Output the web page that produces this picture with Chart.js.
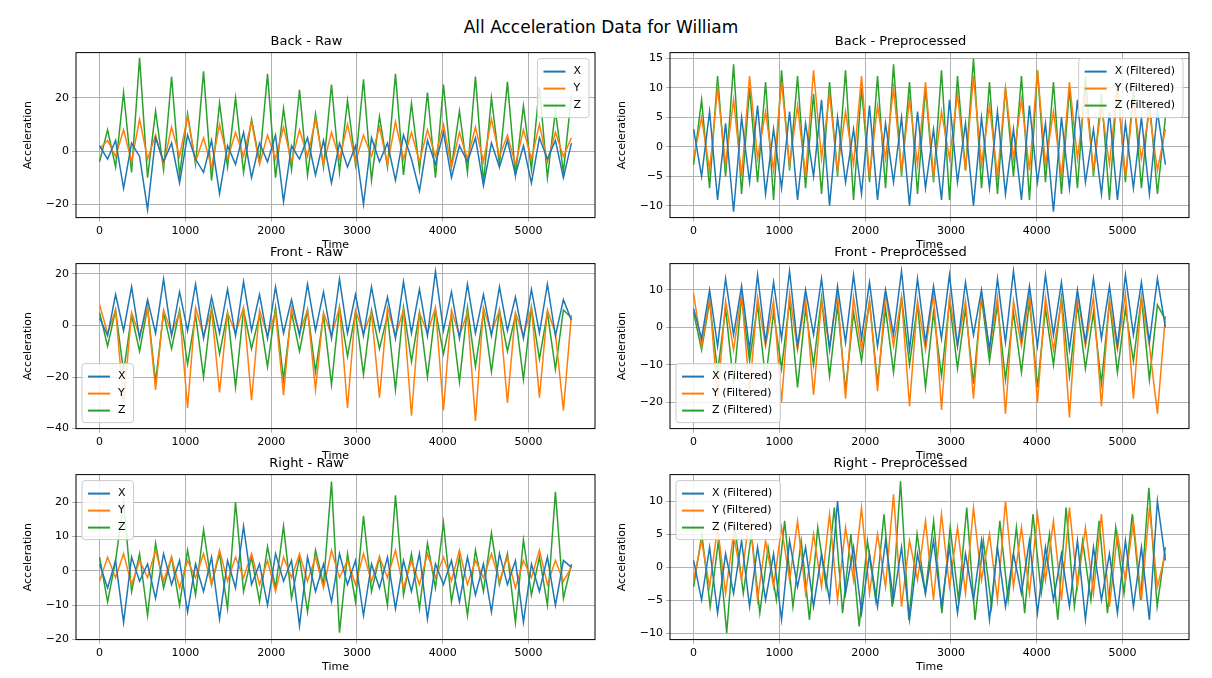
<!DOCTYPE html>
<html><head><meta charset="utf-8">
<script src="https://cdn.jsdelivr.net/npm/chart.js@4/dist/chart.umd.min.js"></script>
<style>
body{margin:0;background:#fff;width:1212px;height:678px;overflow:hidden;font-family:"DejaVu Sans",sans-serif}
#title{position:absolute;top:17px;left:0;width:1202px;text-align:center;font-size:17px;color:#000}
.c{position:absolute}
</style></head><body>
<div id="title">All Acceleration Data for William</div>
<div class="c" style="left:18px;top:34px;width:585px;height:218px"><canvas id="c0"></canvas></div>
<div class="c" style="left:612px;top:34px;width:585px;height:218px"><canvas id="c1"></canvas></div>
<div class="c" style="left:18px;top:245px;width:585px;height:218px"><canvas id="c2"></canvas></div>
<div class="c" style="left:612px;top:245px;width:585px;height:218px"><canvas id="c3"></canvas></div>
<div class="c" style="left:18px;top:456px;width:585px;height:218px"><canvas id="c4"></canvas></div>
<div class="c" style="left:612px;top:456px;width:585px;height:218px"><canvas id="c5"></canvas></div>
<script>
const BR_X=[2,-3,4,-14,3,-2,-22,5,-4,3,-12,6,-3,-8,4,-16,2,-5,7,-10,3,-4,6,-19,2,-3,5,-9,4,-12,3,-6,2,-20,5,-4,3,-11,6,-3,-15,4,-5,7,-10,2,-4,5,-13,3,-6,4,-9,2,-12,5,-3,4,-10,3];
const BR_Y=[1,4,-2,8,-4,12,-3,6,-5,9,-2,13,-4,5,-6,10,-3,7,-2,11,-5,6,-3,9,-4,8,-2,12,-5,7,-3,10,-4,6,-2,9,-5,11,-3,7,-4,8,-2,10,-6,7,-3,9,-4,12,-2,6,-5,8,-3,10,-4,7,-2,5];
const BR_Z=[-4,8,-6,22,-8,35,-10,15,-7,28,-9,14,-5,30,-11,18,-6,20,-8,12,-4,29,-10,16,-7,23,-9,14,-6,25,-8,19,-5,27,-11,13,-6,29,-9,18,-7,22,-10,25,-6,15,-8,28,-12,20,-5,26,-9,17,-7,24,-10,15,-8,21];
const BP_X=[3,-5,6,-9,4,-11,5,-6,7,-8,3,-7,6,-9,4,-5,8,-10,5,-6,3,-8,7,-9,4,-6,5,-10,6,-7,3,-9,8,-6,4,-10,5,-7,6,-8,3,-9,7,-6,4,-11,5,-7,8,-6,3,-8,6,-9,4,-7,5,-8,6,-3];
const BP_Y=[-2,5,-4,10,-3,8,-5,12,-2,6,-4,11,-3,7,-5,13,-2,9,-4,6,-3,12,-5,7,-2,10,-4,8,-3,11,-5,6,-2,9,-4,12,-3,7,-5,10,-2,8,-4,13,-3,6,-5,11,-2,9,-4,7,-3,10,-5,8,-2,6,-4,3];
const BP_Z=[-3,8,-7,12,-5,14,-8,10,-6,11,-9,13,-4,12,-7,9,-8,11,-5,13,-9,10,-6,12,-7,14,-5,11,-8,10,-6,13,-9,12,-4,15,-7,11,-8,10,-5,12,-9,13,-6,11,-8,10,-7,12,-5,9,-9,11,-6,10,-7,8,-8,5];
const FR_X=[3,-4,12,-2,15,-5,10,-3,18,-4,13,-2,16,-5,11,-3,14,-4,17,-2,12,-5,15,-3,10,-4,16,-2,13,-5,18,-3,12,-4,15,-2,11,-5,17,-3,14,-4,21,-2,13,-5,16,-3,12,-4,15,-2,11,-5,14,-3,16,-4,10,2];
const FR_Y=[8,-3,6,-30,5,-4,7,-25,6,-3,5,-32,7,-4,6,-26,5,-3,7,-29,6,-4,5,-27,7,-3,6,-25,5,-4,7,-32,6,-3,5,-28,7,-4,6,-35,5,-3,7,-33,6,-4,5,-37,7,-3,6,-30,5,-4,7,-28,6,-3,-33,4];
const FR_Z=[5,-8,6,-18,4,-10,7,-22,5,-9,6,-15,4,-20,7,-11,5,-24,6,-9,4,-16,7,-21,5,-10,6,-18,4,-23,7,-12,5,-19,6,-9,4,-25,7,-14,5,-20,6,-11,4,-22,7,-16,5,-18,6,-10,4,-21,7,-13,5,-17,6,3];
const FP_X=[5,-3,10,-5,13,-2,11,-6,14,-4,12,-3,15,-5,10,-2,13,-6,11,-4,14,-3,12,-5,10,-2,15,-6,13,-4,11,-3,14,-5,12,-2,10,-6,13,-4,15,-3,11,-5,14,-2,12,-6,10,-4,13,-3,11,-5,14,-2,12,-4,13,0];
const FP_Y=[9,-5,8,-19,7,-6,9,-17,8,-5,7,-20,9,-6,8,-18,7,-5,9,-19,8,-6,7,-17,9,-5,8,-21,7,-6,9,-22,8,-5,7,-19,9,-6,8,-23,7,-5,9,-20,8,-6,7,-24,9,-5,8,-21,7,-6,9,-19,8,-5,-23,3];
const FP_Z=[4,-6,7,-12,5,-15,8,-9,6,-14,4,-11,7,-16,5,-10,8,-13,6,-17,4,-9,7,-15,5,-12,8,-10,6,-16,4,-13,7,-11,5,-15,8,-9,6,-14,4,-12,7,-16,5,-10,8,-13,6,-11,4,-15,7,-12,5,-9,8,-14,6,2];
const RR_X=[2,-5,3,-15,4,-3,2,-8,5,-4,3,-12,2,-6,4,-14,3,-5,13,-4,2,-10,5,-3,3,-16,4,-6,2,-9,5,-4,3,-13,2,-5,4,-11,3,-6,5,-14,2,-4,3,-9,4,-7,2,-12,5,-4,3,-15,2,-6,4,-10,3,1];
const RR_Y=[-3,4,-2,5,-4,3,-2,6,-3,4,-5,3,-2,5,-4,6,-3,4,-2,5,-4,3,-6,4,-2,5,-3,4,-5,6,-2,3,-4,5,-3,4,-2,6,-5,3,-4,5,-2,4,-3,6,-4,3,-2,5,-3,4,-5,3,-2,6,-4,3,-3,1];
const RR_Z=[4,-9,3,20,-6,5,-13,8,-5,4,-10,6,-7,12,-4,5,-11,20,-6,4,-9,7,-5,13,-8,4,-12,6,-4,26,-18,5,-9,16,-6,4,-10,22,-7,5,-11,8,-5,14,-9,4,-13,6,-6,11,-4,5,-15,9,-7,4,-10,23,-8,2];
const RP_X=[1,-5,3,-7,2,-4,4,-6,3,-5,2,-8,4,-3,3,-6,2,-5,10,-4,3,-7,2,-6,4,-5,3,-8,2,-4,4,-6,3,-7,2,-5,4,-8,3,-6,2,-4,4,-7,3,-5,2,-6,4,-8,3,-5,2,-7,4,-6,3,-8,10,1];
const RP_Y=[-2,4,-3,6,-4,5,-2,8,-5,4,-3,6,-2,7,-4,5,-3,8,-5,6,-2,9,-4,5,-3,11,-6,4,-2,7,-5,8,-3,6,-4,9,-2,5,-5,10,-3,6,-4,8,-2,7,-5,9,-3,6,-4,8,-6,5,-2,7,-5,9,-3,2];
const RP_Z=[-3,5,-6,4,-10,6,-4,5,-7,3,-5,7,-6,4,-8,6,-3,9,-7,5,-9,4,-5,8,-6,13,-8,5,-4,7,-7,6,-5,9,-8,4,-6,7,-5,6,-7,8,-4,5,-8,9,-6,4,-5,7,-7,6,-4,8,-5,12,-6,3];
const T_MAX=5500;
const COLORS=['#1f77b4','#ff7f0e','#2ca02c'];
const RAW_LABELS=['X','Y','Z'];
const FILT_LABELS=['X (Filtered)','Y (Filtered)','Z (Filtered)'];

const panels=[
 {id:'c0',title:'Back - Raw',s:[BR_X,BR_Y,BR_Z],lab:RAW_LABELS,min:-25,max:37,step:20,leg:'tr'},
 {id:'c1',title:'Back - Preprocessed',s:[BP_X,BP_Y,BP_Z],lab:FILT_LABELS,min:-12,max:16,step:5,leg:'tr'},
 {id:'c2',title:'Front - Raw',s:[FR_X,FR_Y,FR_Z],lab:RAW_LABELS,min:-40,max:24,step:20,leg:'bl'},
 {id:'c3',title:'Front - Preprocessed',s:[FP_X,FP_Y,FP_Z],lab:FILT_LABELS,min:-27,max:17,step:10,leg:'bl'},
 {id:'c4',title:'Right - Raw',s:[RR_X,RR_Y,RR_Z],lab:RAW_LABELS,min:-20,max:28,step:10,leg:'tl'},
 {id:'c5',title:'Right - Preprocessed',s:[RP_X,RP_Y,RP_Z],lab:FILT_LABELS,min:-11,max:14,step:5,leg:'tl'},
];
const legendPlugin={id:'inLegend',afterDraw(ch,a,o){
 const ca=ch.chartArea,ctx=ch.ctx;ctx.save();ctx.font='11px "DejaVu Sans"';
 const labs=o.labels;const w=Math.max(...labs.map(l=>ctx.measureText(l).width))+44,h=labs.length*17+8;
 let x=o.pos==='tr'?ca.right-w-6:ca.left+6, y=o.pos==='bl'?ca.bottom-h-6:ca.top+6;
 ctx.fillStyle='rgba(255,255,255,0.85)';ctx.strokeStyle='#ccc';ctx.lineWidth=1;
 ctx.beginPath();ctx.roundRect(x,y,w,h,3);ctx.fill();ctx.stroke();
 labs.forEach((l,i)=>{const yy=y+13+i*17;ctx.strokeStyle=COLORS[i];ctx.lineWidth=2;
  ctx.beginPath();ctx.moveTo(x+6,yy);ctx.lineTo(x+28,yy);ctx.stroke();
  ctx.fillStyle='#000';ctx.textBaseline='middle';ctx.fillText(l,x+36,yy);});
 ctx.restore();}};
const borderPlugin={id:'box',afterDatasetsDraw(ch){const ca=ch.chartArea,ctx=ch.ctx;ctx.save();ctx.strokeStyle='#000';ctx.lineWidth=1;ctx.strokeRect(ca.left,ca.top,ca.right-ca.left,ca.bottom-ca.top);ctx.restore();}};
Chart.defaults.font.family='"DejaVu Sans"';Chart.defaults.color='#000';
panels.forEach(p=>{
 new Chart(document.getElementById(p.id),{type:'line',
  data:{datasets:p.s.map((arr,i)=>({label:p.lab[i],data:arr.map((v,k)=>({x:k*T_MAX/(arr.length-1),y:v})),borderColor:COLORS[i],borderWidth:1.5,pointRadius:0,tension:0}))},
  options:{responsive:true,maintainAspectRatio:false,animation:false,
   layout:{padding:{right:8}},
   plugins:{legend:{display:false},tooltip:{enabled:false},title:{display:true,text:p.title,font:{size:13,weight:'normal'},padding:{top:0,bottom:3}},
    inLegend:{labels:p.lab,pos:p.leg}},
   scales:{
    x:{type:'linear',min:-275,max:5775,afterBuildTicks(s){s.ticks=[0,1000,2000,3000,4000,5000].map(v=>({value:v}));},
     grid:{color:'#b0b0b0',tickLength:4},border:{display:false},ticks:{font:{size:11},maxRotation:0,callback:v=>v},
     title:{display:true,text:'Time',font:{size:11},padding:{top:-2,bottom:0}}},
    y:{min:p.min,max:p.max,afterBuildTicks(s){const t=[];for(let v=Math.ceil(p.min/p.step)*p.step;v<=p.max;v+=p.step)t.push({value:v});s.ticks=t;},
     afterFit(s){s.width=58;},
     grid:{color:'#b0b0b0',tickLength:4},border:{display:false},ticks:{font:{size:11},callback:v=>v<0?'\u2212'+Math.abs(v):v},
     title:{display:true,text:'Acceleration',font:{size:11},padding:{bottom:2}}}}},
  plugins:[legendPlugin,borderPlugin]});
});
</script></body></html>
